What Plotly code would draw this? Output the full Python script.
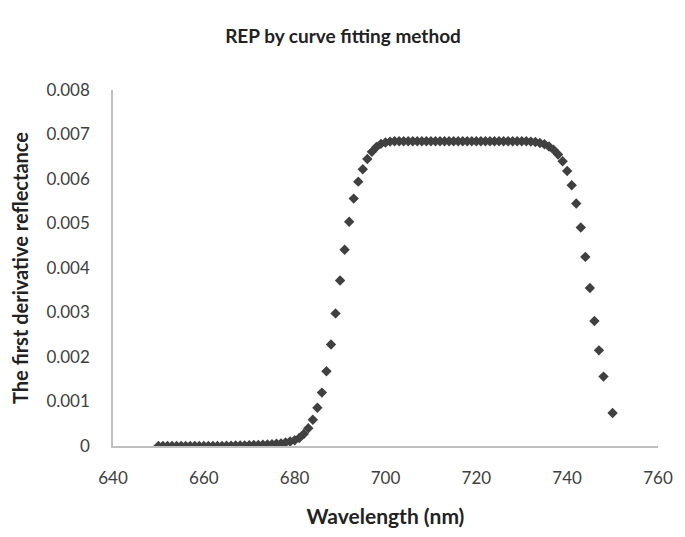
import plotly.graph_objects as go

wavelength = list(range(650, 749)) + [750]

derivative = [
    # 650-659
    0.0, 0.0, 0.0, 0.0, 0.0, 0.0, 0.0, 0.0, 0.0, 0.0,
    # 660-669
    0.0, 0.0, 0.0, 0.0, 0.0, 0.000005, 0.000008, 0.00001, 0.000012, 0.000015,
    # 670-679
    0.00002, 0.000022, 0.000025, 0.00003, 0.000035, 0.00004, 0.00005, 0.00006, 0.00008, 0.0001,
    # 680-689
    0.00013, 0.00018, 0.00027, 0.0004, 0.00059, 0.00086, 0.0012, 0.00168, 0.00228, 0.00298,
    # 690-699
    0.00372, 0.00441, 0.00504, 0.00556, 0.00594, 0.00622, 0.00645, 0.00661, 0.00672, 0.00679,
    # 700-709
    0.00682, 0.00684, 0.00685, 0.00685, 0.00685, 0.00685, 0.00685, 0.00685, 0.00685, 0.00685,
    # 710-719
    0.00685, 0.00685, 0.00685, 0.00685, 0.00685, 0.00685, 0.00685, 0.00685, 0.00685, 0.00685,
    # 720-729
    0.00685, 0.00685, 0.00685, 0.00685, 0.00685, 0.00685, 0.00685, 0.00685, 0.00685, 0.00685,
    # 730-739
    0.00685, 0.00685, 0.00684, 0.00683, 0.00681, 0.00678, 0.00673, 0.00666, 0.00655, 0.0064,
    # 740-748
    0.00618, 0.00586, 0.00545, 0.00491, 0.00425, 0.00355, 0.00281, 0.00215, 0.00156,
    # 750
    0.00074,
]

x_ticks = [640, 660, 680, 700, 720, 740, 760]
y_ticks = [0, 0.001, 0.002, 0.003, 0.004, 0.005, 0.006, 0.007, 0.008]
y_tick_labels = ["0", "0.001", "0.002", "0.003", "0.004", "0.005", "0.006", "0.007", "0.008"]

FONT = "Lato"
TXT = "#404040"

# page body has an 8px margin: shrink the figure so the plot area lands where it should
W, H = 677, 529

fig = go.Figure()
fig.add_trace(go.Scatter(
    x=wavelength, y=derivative, mode="markers",
    marker=dict(symbol="diamond", size=8, color="#404040", line=dict(width=0)),
    showlegend=False,
))

fig.update_layout(
    width=W, height=H,
    margin=dict(l=101, r=17, t=82, b=76),
    paper_bgcolor="white", plot_bgcolor="white",
    font=dict(family=FONT, color=TXT, size=17),
    title=dict(text="<b>REP by curve fitting method</b>", x=(343 - 8) / W, xanchor="center",
               y=1 - (36 - 8) / H, yanchor="middle",
               font=dict(family=FONT, size=19, color="#222222")),
)

fig.update_xaxes(
    range=[640, 760], tickvals=x_ticks, showgrid=False, zeroline=False,
    showline=True, linecolor="#bfbfbf", linewidth=1.5, ticks="",
    ticklabelstandoff=16, tickfont=dict(size=17, color=TXT),
    title=dict(text="<b>Wavelength (nm)</b>", font=dict(size=21, color="#222222"), standoff=22),
)
fig.update_yaxes(
    range=[0, 0.008], tickvals=y_ticks, ticktext=y_tick_labels, showgrid=False,
    zeroline=False, showline=True, linecolor="#bfbfbf", linewidth=1.5, ticks="",
    ticklabelstandoff=18, tickfont=dict(size=17, color=TXT),
    title=dict(text="<b>The first derivative reflectance</b>", font=dict(size=20, color="#222222"), standoff=12),
)

fig.write_html("out.html")
